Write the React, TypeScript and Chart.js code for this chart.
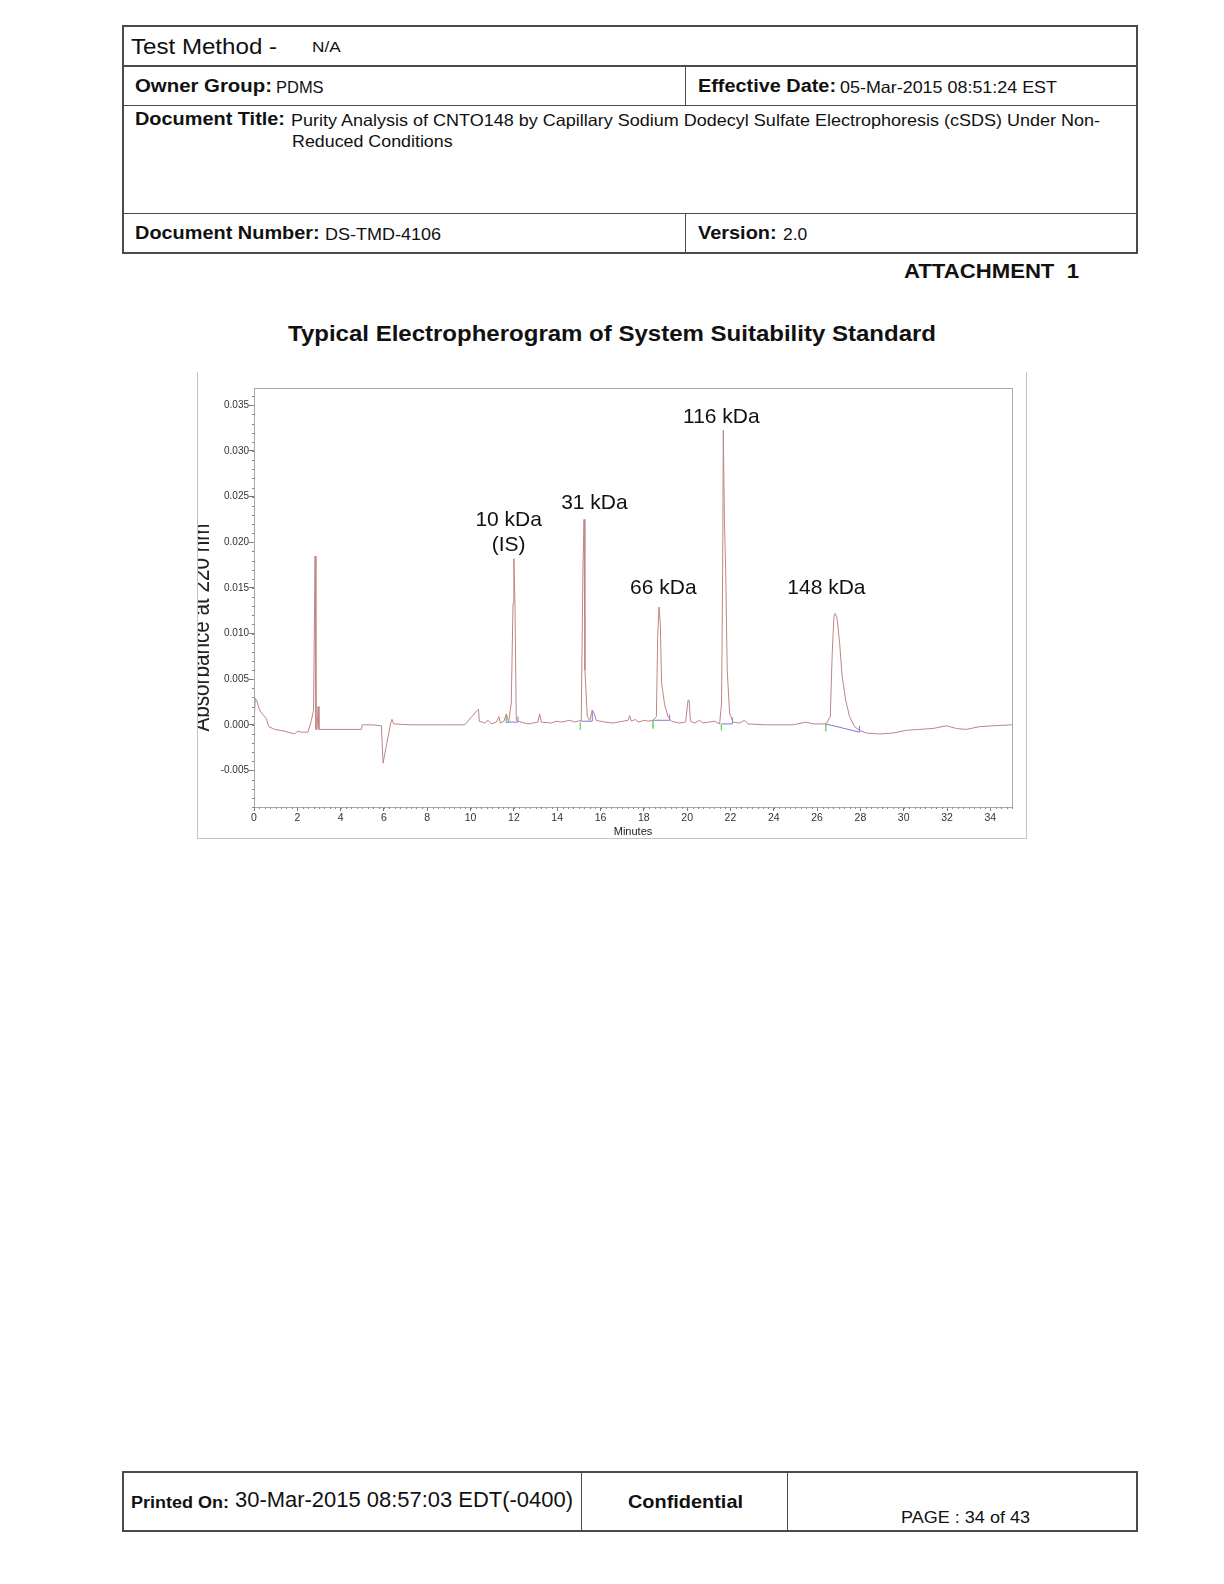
import React, { useEffect, useRef } from 'react';
import { Chart, registerables } from 'chart.js';

Chart.register(...registerables);

// ---- Electropherogram trace (minutes, AU at 220 nm) ----
const timeMin = [
  0.0, 0.06, 0.12, 0.26, 0.42, 0.57, 0.68, 0.96, 1.42, 1.88, 2.0, 2.19, 2.49, 2.65, 2.75, 2.82, 2.86, 2.91, 2.96, 3.0,
  3.72, 4.34, 4.96, 5.0, 5.42, 5.88, 5.96, 6.31, 6.37, 6.45, 7.26, 8.8, 9.73, 10.31, 10.37, 10.4, 10.65, 10.81, 10.96,
  11.19, 11.31, 11.37, 11.54, 11.65, 11.76, 11.88, 11.96, 12.0, 12.05, 12.11, 12.19, 12.65, 13.11, 13.19, 13.27, 13.73,
  13.96, 14.19, 14.58, 14.81, 15.11, 15.19, 15.24, 15.28, 15.39, 15.5, 15.62, 15.7, 15.8, 16.19, 16.58, 17.04, 17.27,
  17.35, 17.42, 17.62, 17.73, 18.04, 18.19, 18.42, 18.58, 18.64, 18.7, 18.76, 18.82, 18.96, 19.12, 19.27, 19.65, 19.93,
  20.04, 20.09, 20.15, 20.35, 20.58, 20.73, 21.27, 21.5, 21.59, 21.64, 21.67, 21.72, 21.78, 21.85, 21.96, 22.12, 22.42,
  22.65, 22.81, 23.66, 24.89, 25.5, 25.81, 26.42, 26.61, 26.7, 26.78, 26.84, 26.92, 27.04, 27.16, 27.32, 27.5, 27.73,
  27.96, 28.27, 28.89, 29.5, 30.12, 30.73, 31.35, 31.97, 32.43, 32.89, 33.5, 34.12, 35.0,
];
const absorbance = [
  0.0002, 0.0029, 0.0027, 0.0016, 0.0011, 0.0007, -0.0002, -0.0005, -0.0007, -0.001, -0.0007, -0.0008, -0.0008, 0.0005,
  0.0016, 0.0185, -0.0005, -0.0005, 0.002, -0.0005,
  -0.0005, -0.0005, -0.0005, 0.0, 0.0, -0.0001, -0.0042, 0.0002, 0.0006, 0.0001, 0.0, 0.0, 0.0, 0.0016, 0.0017, 0.0004,
  0.0002, 0.0005, 0.0001,
  0.0003, 0.0009, 0.0002, 0.0004, 0.0012, 0.0003, 0.0024, 0.0133, 0.0182, 0.0133, 0.0005, 0.0004, 0.0001, 0.0003, 0.0012,
  0.0003, 0.0002,
  0.0004, 0.0003, 0.0005, 0.0003, 0.0005, 0.0174, 0.0225, 0.006, 0.0009, 0.0005, 0.0016, 0.0013, 0.0005, 0.0003, 0.0002,
  0.0004, 0.0005,
  0.001, 0.0004, 0.0006, 0.0003, 0.0005, 0.0004, 0.0005, 0.0009, 0.0097, 0.0129, 0.0111, 0.0046, 0.0022, 0.0009, 0.0004,
  0.0002, 0.0003,
  0.0027, 0.0027, 0.0004, 0.0002, 0.0005, 0.0002, 0.0004, 0.0001, 0.0024, 0.017, 0.0323, 0.0225, 0.017, 0.006, 0.0013,
  0.0003, 0.0002,
  0.0005, 0.0001, 0.0, 0.0, 0.0003, 0.0001, 0.0001, 0.0009, 0.0079, 0.0119, 0.0122, 0.0117, 0.009, 0.0053, 0.0027, 0.0009,
  -0.0002,
  -0.0006, -0.0009, -0.001, -0.0009, -0.0006, -0.0005, -0.0004, -0.0001, -0.0004, -0.0005, -0.0002, -0.0001, 0.0,
];

// ---- Integration baselines (blue) with end markers, null = break ----
const baselineMin = [11.65, 12.19, 12.19, 12.19, 15.09, 15.62, 15.62, 15.62, 18.42, 19.19, 19.19, 19.19, 21.58, 22.09, 22.09, 22.09, 26.4, 27.96, 27.96];
const baselineAbs = [0.0003, 0.0003, 0.0009, null, 0.0004, 0.0004, 0.0016, null, 0.0005, 0.0005, 0.0011, null, 0.0001, 0.0001, 0.0008, null, 0.0001, -0.0008, -0.0001];

// ---- Peak start markers (green), null = break ----
const startMin = [11.65, 11.65, 11.65, 15.07, 15.07, 15.07, 18.42, 18.42, 18.42, 21.58, 21.58, 21.58, 26.4, 26.4];
const startAbs = [0.0011, 0.00025, null, 0.00025, -0.00055, null, 0.0004, -0.0004, null, 0.0001, -0.0006, null, 0.0001, -0.0007];

// ---- Peak annotations ----
const peakLabels = ['116 kDa', '31 kDa', '10 kDa', '(IS)', '66 kDa', '148 kDa'];
const labelMin = [21.58, 15.72, 11.76, 11.76, 18.9, 26.43];
const labelAbs = [0.03367, 0.02433, 0.02247, 0.01967, 0.01498, 0.01498];

const yTitle = 'Absorbance at 220 nm';
const xTitle = 'Minutes';
const xMinorStep = 0.25;
const yMinorStep = 0.001;

const FONT = '"Liberation Sans", Arial, Helvetica, sans-serif';

const decorPlugin = {
  id: 'decor',
  afterDraw(chart: any) {
    const { ctx, chartArea: a, scales } = chart;
    const x = scales.x;
    const y = scales.y;
    ctx.save();
    ctx.strokeStyle = '#a9a9a9';
    ctx.lineWidth = 1;
    ctx.strokeRect(Math.round(a.left) + 0.5, Math.round(a.top) + 0.5, Math.round(a.right - a.left), Math.round(a.bottom - a.top));
    ctx.strokeStyle = '#8a8a8a';
    ctx.beginPath();
    for (let m = x.min; m <= x.max + 1e-9; m += xMinorStep) {
      const px = Math.round(x.getPixelForValue(m)) + 0.5;
      ctx.moveTo(px, a.bottom);
      ctx.lineTo(px, a.bottom + 2);
    }
    for (let v = -0.009; v <= y.max + 1e-9; v += yMinorStep) {
      const py = Math.round(y.getPixelForValue(v)) + 0.5;
      ctx.moveTo(a.left - 2, py);
      ctx.lineTo(a.left, py);
    }
    ctx.stroke();

    ctx.fillStyle = '#111';
    ctx.font = `21px ${FONT}`;
    ctx.textAlign = 'center';
    ctx.textBaseline = 'middle';
    peakLabels.forEach((t, i) => {
      ctx.fillText(t, x.getPixelForValue(labelMin[i]), y.getPixelForValue(labelAbs[i]));
    });

    // Y-axis title, partly clipped by the frame edge as in the source
    ctx.font = `23px ${FONT}`;
    const tw = ctx.measureText(yTitle).width;
    ctx.translate(12, 255.5);
    ctx.rotate(-Math.PI / 2);
    ctx.scale(208 / tw, 1);
    ctx.fillStyle = '#222';
    ctx.textAlign = 'center';
    ctx.textBaseline = 'alphabetic';
    ctx.fillText(yTitle, 0, 0);
    ctx.restore();
  },
};

let measureCtx: CanvasRenderingContext2D | null = null;
function measure(text: string, size: number, bold: boolean) {
  if (!measureCtx) measureCtx = document.createElement('canvas').getContext('2d');
  if (!measureCtx) return 0;
  measureCtx.font = `${bold ? 'bold ' : ''}${size}px ${FONT}`;
  return measureCtx.measureText(text).width;
}

function Txt(props: { x: number; y: number; size: number; bold?: boolean; w?: number; children: string }) {
  const { x, y, size, bold = false, w, children } = props;
  let sx = 1;
  if (w) {
    const m = measure(children, size, bold);
    if (m > 0) sx = w / m;
  }
  return (
    <div
      style={{
        position: 'absolute',
        left: x,
        top: y - 0.8465 * size,
        fontSize: size,
        lineHeight: `${size}px`,
        fontFamily: FONT,
        fontWeight: bold ? 'bold' : 'normal',
        color: '#111',
        whiteSpace: 'pre',
        transform: `scaleX(${sx})`,
        transformOrigin: '0 0',
      }}
    >
      {children}
    </div>
  );
}

const LC = '#4a4a4a';
function HLine({ x1, x2, y }: { x1: number; x2: number; y: number }) {
  return <div style={{ position: 'absolute', left: x1, top: y - 0.75, width: x2 - x1, height: 1.5, background: LC }} />;
}
function VLine({ x, y1, y2 }: { x: number; y1: number; y2: number }) {
  return <div style={{ position: 'absolute', left: x - 0.75, top: y1, width: 1.5, height: y2 - y1, background: LC }} />;
}

function ChartCanvas() {
  const ref = useRef<HTMLCanvasElement | null>(null);
  useEffect(() => {
    if (!ref.current) return;
    const trace = timeMin.map((t, i) => ({ x: t, y: absorbance[i] }));
    const base = baselineMin.map((t, i) => ({ x: t, y: baselineAbs[i] }));
    const starts = startMin.map((t, i) => ({ x: t, y: startAbs[i] }));
    const chart = new Chart(ref.current, {
      type: 'line',
      data: {
        datasets: [
          { data: trace as any, borderColor: 'rgb(192,132,132)', borderWidth: 1, pointRadius: 0, tension: 0, spanGaps: false },
          { data: base as any, borderColor: 'rgb(120,120,228)', borderWidth: 1, pointRadius: 0, tension: 0, spanGaps: false },
          { data: starts as any, borderColor: 'rgb(110,215,110)', borderWidth: 1, pointRadius: 0, tension: 0, spanGaps: false },
        ],
      },
      options: {
        animation: false,
        responsive: false,
        devicePixelRatio: 1,
        events: [],
        layout: { padding: { top: 16, right: 15, left: 0, bottom: 0 } },
        plugins: { legend: { display: false }, tooltip: { enabled: false } },
        scales: {
          x: {
            type: 'linear',
            min: 0,
            max: 35,
            afterFit: (s: any) => {
              s.height = 32;
            },
            ticks: {
              stepSize: 2,
              includeBounds: false,
              autoSkip: false,
              maxRotation: 0,
              padding: 1,
              color: '#333',
              font: { family: FONT, size: 10.5 },
              callback: (v: any) => String(v),
            },
            grid: { drawOnChartArea: false, drawTicks: true, tickLength: 4, color: '#777' },
            border: { color: '#a9a9a9' },
            title: { display: true, text: xTitle, color: '#222', font: { family: FONT, size: 11 }, padding: 0 },
          },
          y: {
            type: 'linear',
            min: -0.009,
            max: 0.0369,
            afterFit: (s: any) => {
              s.width = 57;
            },
            ticks: {
              stepSize: 0.005,
              includeBounds: false,
              padding: 0,
              color: '#333',
              font: { family: FONT, size: 10 },
              callback: (v: any) => Number(v).toFixed(3),
            },
            grid: { drawOnChartArea: false, drawTicks: true, tickLength: 5, color: '#777' },
            border: { color: '#a9a9a9' },
          },
        },
      },
      plugins: [decorPlugin],
    });
    return () => chart.destroy();
  }, []);
  return (
    <canvas
      ref={ref}
      width={830}
      height={467}
      style={{ position: 'absolute', left: 197, top: 372, width: 830, height: 467 }}
    />
  );
}

export default function App() {
  const L = 123;
  const R = 1137;
  const D = 685.7;
  return (
    <div style={{ position: 'relative', width: 1224, height: 1584, margin: -8, background: '#fff' }}>
      <div style={{ position: 'absolute', left: 0, top: 0, width: 1224, height: 1584 }}>
        {/* Header table */}
        <HLine x1={L} x2={R} y={26} />
        <HLine x1={L} x2={R} y={66} />
        <HLine x1={L} x2={R} y={105.5} />
        <HLine x1={L} x2={R} y={213.5} />
        <HLine x1={L} x2={R} y={253} />
        <VLine x={L} y1={25.25} y2={253.75} />
        <VLine x={R} y1={25.25} y2={253.75} />
        <VLine x={D} y1={66} y2={105.5} />
        <VLine x={D} y1={213.5} y2={253} />

        <Txt x={130.7} y={54.3} size={22} w={146}>Test Method -</Txt>
        <Txt x={312.3} y={51.5} size={15} w={28.7}>N/A</Txt>
        <Txt x={135} y={92.5} size={18} bold w={137}>Owner Group:</Txt>
        <Txt x={275.7} y={92.5} size={16.5} w={47.6}>PDMS</Txt>
        <Txt x={698} y={92.5} size={18} bold w={138}>Effective Date:</Txt>
        <Txt x={840} y={92.5} size={16.5} w={217}>05-Mar-2015 08:51:24 EST</Txt>
        <Txt x={134.5} y={125} size={18} bold w={150}>Document Title:</Txt>
        <Txt x={291} y={126} size={16.5} w={810}>Purity Analysis of CNTO148 by Capillary Sodium Dodecyl Sulfate Electrophoresis (cSDS) Under Non-</Txt>
        <Txt x={291.8} y={147.3} size={16.5} w={160.6}>Reduced Conditions</Txt>
        <Txt x={134.5} y={239.5} size={18} bold w={184.7}>Document Number:</Txt>
        <Txt x={325} y={239.5} size={16.5} w={116}>DS-TMD-4106</Txt>
        <Txt x={698} y={239.5} size={18} bold w={78.6}>Version:</Txt>
        <Txt x={782.7} y={239.5} size={16.5} w={24.3}>2.0</Txt>

        <Txt x={904} y={277.8} size={20} bold w={175}>ATTACHMENT  1</Txt>
        <Txt x={287.8} y={341.9} size={22} bold w={648}>Typical Electropherogram of System Suitability Standard</Txt>

        {/* Chart */}
        <ChartCanvas />
        <div style={{ position: 'absolute', left: 197, top: 372, width: 1, height: 466, background: '#c4c4c4' }} />
        <div style={{ position: 'absolute', left: 1026, top: 372, width: 1, height: 466, background: '#c4c4c4' }} />
        <div style={{ position: 'absolute', left: 197, top: 838, width: 830, height: 1, background: '#c4c4c4' }} />

        {/* Footer table */}
        <HLine x1={L} x2={R} y={1472} />
        <HLine x1={L} x2={R} y={1531} />
        <VLine x={L} y1={1471.25} y2={1531.75} />
        <VLine x={R} y1={1471.25} y2={1531.75} />
        <VLine x={581.7} y1={1472} y2={1531} />
        <VLine x={787.7} y1={1472} y2={1531} />

        <Txt x={131.3} y={1508.4} size={16} bold w={98}>Printed On:</Txt>
        <Txt x={235.3} y={1507.6} size={22} w={338}>30-Mar-2015 08:57:03 EDT(-0400)</Txt>
        <Txt x={628} y={1508.5} size={19} bold w={115}>Confidential</Txt>
        <Txt x={900.8} y={1522.9} size={17} w={129}>PAGE : 34 of 43</Txt>
      </div>
    </div>
  );
}
